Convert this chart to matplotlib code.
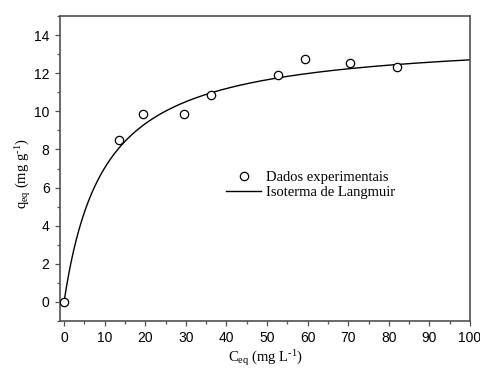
import numpy as np
import matplotlib
matplotlib.use("Agg")
import matplotlib.pyplot as plt
from matplotlib.ticker import MultipleLocator

serif = 'Liberation Serif'
plt.rcParams['mathtext.fontset'] = 'custom'
plt.rcParams['mathtext.rm'] = serif
plt.rcParams['mathtext.it'] = serif + ':italic'

# Experimental data
c_eq = [0.0, 13.6, 19.4, 29.5, 36.2, 52.6, 59.4, 70.4, 82.0]
q_eq = [0.0, 8.5, 9.87, 9.87, 10.84, 11.92, 12.74, 12.55, 12.32]

# Langmuir fit parameters (estimated from curve)
q_max = 13.95
K_L = 0.1016
c_max = 100

fig = plt.figure(figsize=(4.8, 3.69), dpi=100)
ax = fig.add_axes([60/480, 1-321/369, 410/480, 305/369])

c_fit = np.linspace(0, c_max, 400)
q_fit = q_max * K_L * c_fit / (1 + K_L * c_fit)

ax.plot(c_eq, q_eq, 'o', ms=6, mfc='white', mec='black', mew=0.9,
        label='Dados experimentais', zorder=3)
ax.plot(c_fit, q_fit, '-', color='black', lw=1.0, label='Isoterma de Langmuir')

ax.set_xlim(-1, 100)
ax.set_ylim(-1, 15)
ax.xaxis.set_major_locator(MultipleLocator(10))
ax.xaxis.set_minor_locator(MultipleLocator(5))
ax.yaxis.set_major_locator(MultipleLocator(2))
ax.yaxis.set_minor_locator(MultipleLocator(1))

for s in ax.spines.values():
    s.set_color('#505050')
    s.set_linewidth(1.2)

ax.tick_params(which='both', direction='out', top=False, right=False,
               color='#505050', width=0.9)
ax.tick_params(which='major', length=3.5, labelsize=10, pad=4)
ax.tick_params(which='minor', length=2)
for lab in ax.get_xticklabels() + ax.get_yticklabels():
    lab.set_family('Liberation Sans')

ax.set_xlabel(r'C$_{\mathrm{eq}}$ (mg L$^{\text{-1}}$)', family=serif, fontsize=10.5)
ax.set_ylabel(r'q$_{\mathrm{eq}}$ (mg g$^{\text{-1}}$)', family=serif, fontsize=10.5)
ax.xaxis.set_label_coords(0.502, -0.088)
ax.yaxis.set_label_coords(-0.066, 0.482)

leg = ax.legend(loc='upper left', bbox_to_anchor=(219/480, 1-164/369),
                bbox_transform=fig.transFigure, frameon=False,
                prop={'family': serif, 'size': 10.5}, handlelength=2.4,
                handletextpad=0.3, labelspacing=0.1, borderpad=0)

fig.savefig('out.png', dpi=100)
